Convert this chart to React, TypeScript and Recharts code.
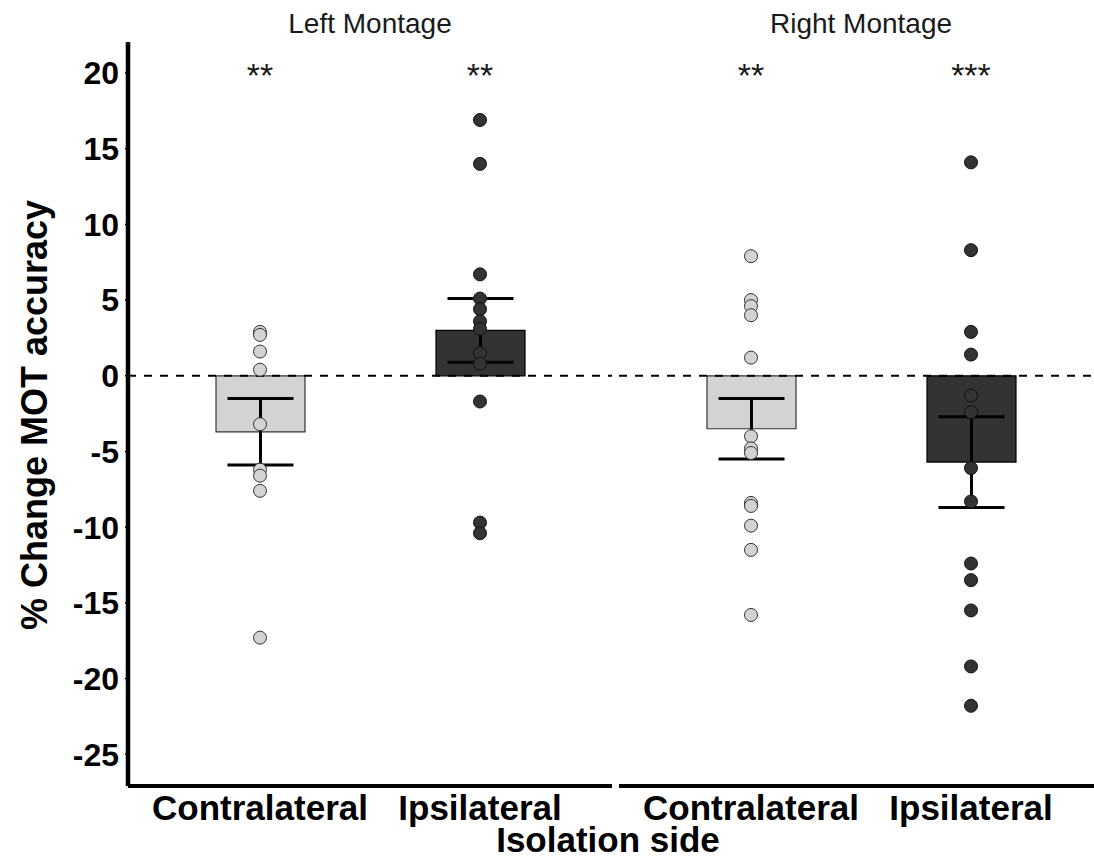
import React from "react";
import {
  ComposedChart,
  Bar,
  Cell,
  ErrorBar,
  Scatter,
  XAxis,
  YAxis,
  ReferenceLine
} from "recharts";

// Categories / labels
const SIDES = ["Contralateral", "Ipsilateral"];
const MONTAGES = ["Left Montage", "Right Montage"];
const Y_TICKS = [-25, -20, -15, -10, -5, 0, 5, 10, 15, 20];

// Bar means and SE (half height of the error bar)
const LEFT_MEANS = [-3.7, 3.0];
const LEFT_ERR = [2.2, 2.1];
const RIGHT_MEANS = [-3.5, -5.7];
const RIGHT_ERR = [2.0, 3.0];

// Individual participants
const LEFT_CONTRA = [2.9, 2.7, 1.6, 0.4, -3.2, -6.2, -6.6, -7.6, -17.3];
const LEFT_IPSI = [16.9, 14.0, 6.7, 5.1, 4.4, 3.6, 3.1, 1.5, 0.8, -1.7, -9.7, -10.4];
const RIGHT_CONTRA = [7.9, 5.0, 4.6, 4.0, 1.2, -4.0, -4.8, -5.1, -8.4, -8.6, -9.9, -11.5, -15.8];
const RIGHT_IPSI = [14.1, 8.3, 2.9, 1.4, -1.3, -2.4, -6.1, -8.3, -12.4, -13.5, -15.5, -19.2, -21.8];

// Significance markers
const LEFT_STARS = ["**", "**"];
const RIGHT_STARS = ["**", "***"];
const STAR_Y = 20;

const FONT = "'Liberation Sans', Arial, Helvetica, sans-serif";
const LIGHT = "#d3d3d3";
const DARK = "#333333";
const Y_DOMAIN: [number, number] = [-27.1, 22.05];

const dot = (fill: string, stroke: string) => (p: any) =>
  <circle cx={p.cx} cy={p.cy} r={6.5} fill={fill} stroke={stroke} strokeWidth={1} />;

const starShape = (p: any) => (
  <text
    x={p.cx}
    y={p.cy + 14}
    textAnchor="middle"
    fontSize={34}
    fontFamily={FONT}
    fill="#1a1a1a"
  >
    {p.payload.label}
  </text>
);

function Facet({
  means,
  errs,
  contra,
  ipsi,
  stars,
  showY,
  width
}: {
  means: number[];
  errs: number[];
  contra: number[];
  ipsi: number[];
  stars: string[];
  showY: boolean;
  width: number;
}) {
  const bars = SIDES.map((s, i) => ({ pos: i + 1, side: s, mean: means[i], err: errs[i] }));
  const contraPts = contra.map((v) => ({ pos: 1, v }));
  const ipsiPts = ipsi.map((v) => ({ pos: 2, v }));
  const starPts = stars.map((label, i) => ({ pos: i + 1, v: STAR_Y, label }));

  return (
    <ComposedChart
      width={width}
      height={859}
      data={bars}
      margin={{ top: 42, right: 0, bottom: 23, left: 0 }}
    >
      <XAxis
        type="number"
        dataKey="pos"
        domain={[0.4, 2.6]}
        ticks={[1, 2]}
        allowDataOverflow
        tickFormatter={(v) => SIDES[v - 1]}
        height={50}
        axisLine={{ stroke: "#000", strokeWidth: 4 }}
        tickLine={false}
        tickSize={3}
        tickMargin={6}
        tick={{ fontSize: 35, fontWeight: "bold", fill: "#000", fontFamily: FONT }}
      />
      <YAxis
        type="number"
        domain={Y_DOMAIN}
        ticks={Y_TICKS}
        allowDataOverflow
        hide={!showY}
        width={128}
        axisLine={{ stroke: "#000", strokeWidth: 4.5 }}
        tickLine={{ stroke: "#000", strokeWidth: 1.5 }}
        tickSize={3}
        tickMargin={6}
        tick={{ fontSize: 32, fontWeight: "bold", fill: "#000", fontFamily: FONT }}
      />
      <Bar dataKey="mean" barSize={89} isAnimationActive={false}>
        <Cell fill={LIGHT} stroke="#333" strokeWidth={1.2} />
        <Cell fill={DARK} stroke="#000" strokeWidth={1.2} />
        <ErrorBar dataKey="err" width={33} stroke="#000" strokeWidth={3} />
      </Bar>
      <ReferenceLine y={0} stroke="#000" strokeWidth={2} strokeDasharray="8 8" />
      <Scatter data={contraPts} dataKey="v" shape={dot(LIGHT, "#333")} isAnimationActive={false} />
      <Scatter data={ipsiPts} dataKey="v" shape={dot(DARK, "#111")} isAnimationActive={false} />
      <Scatter data={starPts} dataKey="v" shape={starShape} isAnimationActive={false} />
    </ComposedChart>
  );
}

export default function App() {
  return (
    <div
      style={{
        position: "absolute",
        left: 0,
        top: 0,
        width: 1094,
        height: 859,
        overflow: "hidden",
        background: "#fff"
      }}
    >
      <div style={{ position: "absolute", left: 0, top: 0 }}>
        <Facet
          means={LEFT_MEANS}
          errs={LEFT_ERR}
          contra={LEFT_CONTRA}
          ipsi={LEFT_IPSI}
          stars={LEFT_STARS}
          showY
          width={612}
        />
      </div>
      <div style={{ position: "absolute", left: 619, top: 0 }}>
        <Facet
          means={RIGHT_MEANS}
          errs={RIGHT_ERR}
          contra={RIGHT_CONTRA}
          ipsi={RIGHT_IPSI}
          stars={RIGHT_STARS}
          showY={false}
          width={484}
        />
      </div>
      {/* titles and strip labels */}
      <svg
        width={1094}
        height={859}
        style={{ position: "absolute", left: 0, top: 0, pointerEvents: "none" }}
        fontFamily={FONT}
      >
        <text x={370} y={33} textAnchor="middle" fontSize={28} fill="#1a1a1a">
          {MONTAGES[0]}
        </text>
        <text x={861} y={33} textAnchor="middle" fontSize={28} fill="#1a1a1a">
          {MONTAGES[1]}
        </text>
        <text
          x={47}
          y={415}
          transform="rotate(-90 47 415)"
          textAnchor="middle"
          fontSize={36}
          fontWeight="bold"
          fill="#000"
        >
          % Change MOT accuracy
        </text>
        <text x={608} y={852} textAnchor="middle" fontSize={35} fontWeight="bold" fill="#000">
          Isolation side
        </text>
      </svg>
    </div>
  );
}
